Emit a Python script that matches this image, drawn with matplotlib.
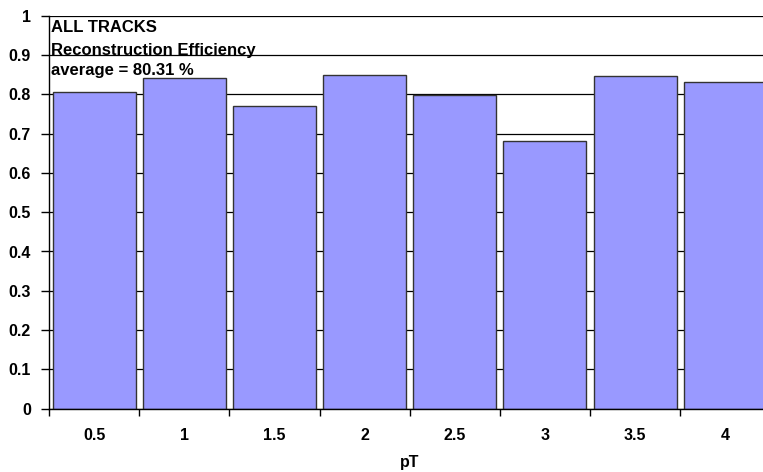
import matplotlib
matplotlib.use("Agg")
import matplotlib.pyplot as plt

categories = ["0.5", "1", "1.5", "2", "2.5", "3", "3.5", "4"]
efficiency = [0.807, 0.842, 0.771, 0.850, 0.797, 0.682, 0.846, 0.831]
yticks = [0, 0.1, 0.2, 0.3, 0.4, 0.5, 0.6, 0.7, 0.8, 0.9, 1.0]
ytick_labels = ["0", "0.1", "0.2", "0.3", "0.4", "0.5", "0.6", "0.7", "0.8", "0.9", "1"]
info_lines = ["ALL TRACKS", "Reconstruction Efficiency", "average = 80.31 %"]
xlabel = "pT"

plt.rcParams['font.family'] = ['Liberation Sans', 'DejaVu Sans']
plt.rcParams['font.weight'] = 'bold'

fig = plt.figure(figsize=(7.63, 4.72), dpi=100)
W, H = 763, 472
left_px, right_px, top_px, bottom_px = 49, 770.4, 15.7, 408.7
ax = fig.add_axes([left_px / W, 1 - bottom_px / H, (right_px - left_px) / W, (bottom_px - top_px) / H])

x = list(range(len(categories)))
ax.set_axisbelow(True)
ax.yaxis.grid(True, color='black', linewidth=0.9)
ax.bar(x, efficiency, width=0.92, color='#9999FF', edgecolor='#333333', linewidth=1.0, zorder=2)

ax.set_xlim(-0.5, len(categories) - 0.5)
ax.set_ylim(0, 1)
ax.set_yticks(yticks)
ax.set_yticklabels(ytick_labels, fontsize=11.5, fontweight='bold')
ax.set_xticks(x)
ax.set_xticklabels(categories, fontsize=11.5, fontweight='bold')
ax.tick_params(axis='x', which='major', length=0, pad=14)
ax.set_xticks([i - 0.5 for i in range(len(categories) + 1)], minor=True)
ax.tick_params(axis='x', which='minor', length=5, width=1, direction='out', color='black')
ax.tick_params(axis='y', length=6, width=1, direction='out', color='black', pad=7)

for s in ['top', 'right']:
    ax.spines[s].set_visible(False)
for s in ['left', 'bottom']:
    ax.spines[s].set_color('black')
    ax.spines[s].set_linewidth(1.0)

fig.text(0.5 * (left_px + right_px) / W, 1 - 462 / H, xlabel, ha='center', va='center',
         fontsize=11.5, fontweight='bold')

for i, (line, ypx) in enumerate(zip(info_lines, [28, 50, 71])):
    fig.text(51 / W, 1 - ypx / H, line, ha='left', va='center', fontsize=12, fontweight='bold')

fig.savefig("out.png", dpi=100)
